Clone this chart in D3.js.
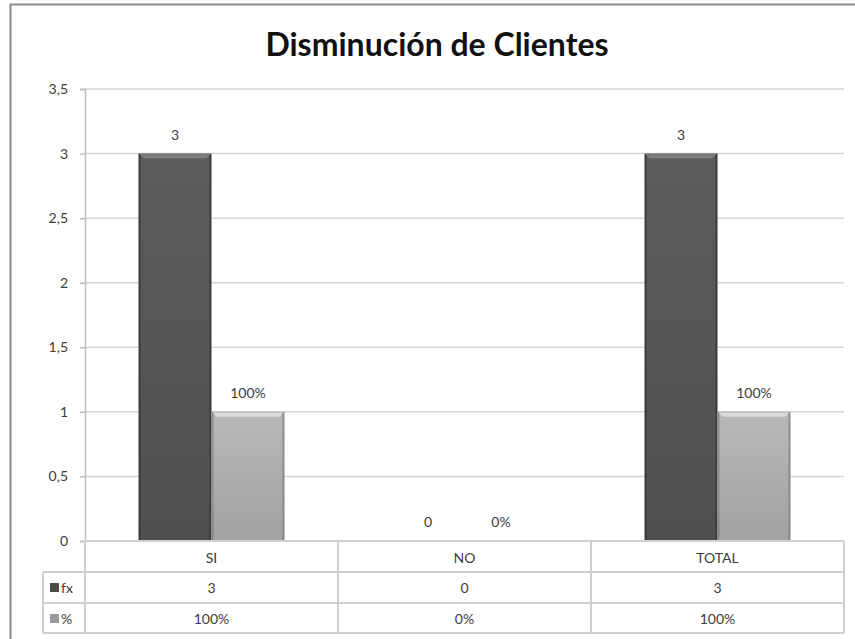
<!DOCTYPE html>
<html>
<head>
<meta charset="utf-8">
<script src="https://cdnjs.cloudflare.com/ajax/libs/d3/7.8.5/d3.min.js"></script>
<style>
  html, body { margin: 0; padding: 0; background: #fff; }
  svg { display: block; }
  text { font-family: Lato, "Open Sans", sans-serif; }
</style>
</head>
<body>
<svg id="chart" width="855" height="639"></svg>
<script>
// Chart data
const title = "Disminución de Clientes";
const categories = ["SI", "NO", "TOTAL"];
const seriesNames = ["fx", "%"];
const fxValues = [3, 0, 3];
const pctValues = [1, 0, 1];
const pctLabels = ["100%", "0%", "100%"];
const yTicks = [0, 0.5, 1, 1.5, 2, 2.5, 3, 3.5];

const svg = d3.select("#chart");

const margin = { left: 85, right: 844, top: 89, bottom: 541 };

const x = d3.scaleBand().domain(categories).range([margin.left, margin.right]).paddingInner(0).paddingOuter(0);
const barW = 73;
const sub = d3.scaleBand().domain(seriesNames).range([0, barW * 2]);
const y = d3.scaleLinear().domain([0, 3.5]).range([margin.bottom, margin.top]);

const fmt = v => d3.format(".1~f")(v).replace(".", ",");
const txt = "#3c3c3c";
const fs = 14;

// Gradients for the bevelled bars
const defs = svg.append("defs");
function grad(id, stops) {
  const g = defs.append("linearGradient").attr("id", id).attr("x1", 0).attr("y1", 0).attr("x2", 0).attr("y2", 1);
  stops.forEach(s => g.append("stop").attr("offset", s[0]).attr("stop-color", s[1]));
}
grad("gDark", [[0, "#5c5c5c"], [1, "#4f4f4f"]]);
grad("gLight", [[0, "#b8b8b8"], [1, "#a2a2a2"]]);
grad("gDarkSide", [[0, "#3c3c3c"], [1, "#3a3a3a"]]);
grad("gLightSide", [[0, "#8e8e8e"], [1, "#858585"]]);

// Outer frame
svg.append("rect").attr("x", 10.5).attr("y", 4.5).attr("width", 900).attr("height", 700)
  .attr("fill", "none").attr("stroke", "#8a8a8a").attr("stroke-width", 2);

// Title
svg.append("text").attr("x", 437).attr("y", 56).attr("text-anchor", "middle")
  .attr("font-size", 32).attr("font-weight", 700).attr("fill", "#111").text(title);

// Gridlines
svg.append("g").selectAll("line").data(yTicks.filter(t => t > 0)).join("line")
  .attr("x1", margin.left).attr("x2", margin.right)
  .attr("y1", d => y(d)).attr("y2", d => y(d))
  .attr("stroke", "#d4d4d4").attr("stroke-width", 1.5);

// Y axis
const yAxis = d3.axisLeft(y).tickValues(yTicks).tickSize(5).tickPadding(12).tickFormat(fmt);
const ga = svg.append("g").attr("transform", `translate(${margin.left},0)`).call(yAxis);
ga.select(".domain").attr("stroke", "#bdbdbd").attr("stroke-width", 1.5);
ga.selectAll(".tick line").attr("stroke", "#bdbdbd").attr("stroke-width", 1.5);
ga.selectAll(".tick text").attr("font-size", fs).attr("fill", txt)
  .attr("font-family", "Lato, sans-serif");

// Bars
const rows = categories.map((c, i) => ({ cat: c, vals: [
  { s: "fx", v: fxValues[i], label: String(fxValues[i]) },
  { s: "%", v: pctValues[i], label: pctLabels[i] }
]}));

const groups = svg.append("g").selectAll("g").data(rows).join("g")
  .attr("transform", d => `translate(${x(d.cat) + x.bandwidth() / 2 - barW},0)`);

groups.each(function(d) {
  const g = d3.select(this);
  d.vals.forEach(b => {
    const bx = sub(b.s), top = y(b.v), h = y(0) - y(b.v);
    const dark = b.s === "fx";
    if (h > 0) {
      g.append("rect").attr("x", bx).attr("y", top).attr("width", sub.bandwidth()).attr("height", h)
        .attr("fill", dark ? "url(#gDarkSide)" : "url(#gLightSide)");
      g.append("rect").attr("x", bx + 2).attr("y", top + 1).attr("width", sub.bandwidth() - 4).attr("height", h - 2)
        .attr("fill", dark ? "url(#gDark)" : "url(#gLight)");
      // top highlight bevel
      g.append("path")
        .attr("d", `M${bx + 1},${top + 0.5} L${bx + sub.bandwidth() - 1},${top + 0.5} L${bx + sub.bandwidth() - 5},${top + 5} L${bx + 5},${top + 5} Z`)
        .attr("fill", dark ? "#858585" : "#e2e2e2").attr("opacity", 0.8);
    }
    g.append("text").attr("x", bx + sub.bandwidth() / 2).attr("y", top - 14)
      .attr("text-anchor", "middle").attr("font-size", fs).attr("fill", txt).text(b.label);
  });
});

// Data table
const rowH = 31;
const tTop = y(0);
const tableLeft = 43;
const lineC = "#d0d0d0";
const tg = svg.append("g");
tg.append("line").attr("x1", margin.left).attr("x2", margin.right).attr("y1", tTop).attr("y2", tTop).attr("stroke", lineC).attr("stroke-width", 2);
[1, 2, 3].forEach(r => {
  const ly = tTop + r * rowH - (r === 3 ? 1 : 0);
  tg.append("line").attr("x1", tableLeft).attr("x2", margin.right)
    .attr("y1", ly).attr("y2", ly).attr("stroke", lineC).attr("stroke-width", 2);
});
tg.append("line").attr("x1", tableLeft).attr("x2", tableLeft).attr("y1", tTop + rowH).attr("y2", tTop + 3 * rowH - 1).attr("stroke", lineC).attr("stroke-width", 2);
const vx = [margin.left, ...categories.map(c => x(c) + x.bandwidth())];
vx.forEach(v => tg.append("line").attr("x1", v).attr("x2", v).attr("y1", tTop).attr("y2", tTop + 3 * rowH - 1)
  .attr("stroke", lineC).attr("stroke-width", 2));

// category labels
tg.selectAll("text.cat").data(categories).join("text").attr("class", "cat")
  .attr("x", d => x(d) + x.bandwidth() / 2).attr("y", tTop + 22)
  .attr("text-anchor", "middle").attr("font-size", fs).attr("fill", txt).text(d => d);
// fx row
tg.selectAll("text.fx").data(fxValues).join("text").attr("class", "fx")
  .attr("x", (d, i) => x(categories[i]) + x.bandwidth() / 2).attr("y", tTop + rowH + 21)
  .attr("text-anchor", "middle").attr("font-size", fs).attr("fill", txt).text(d => d);
// % row
tg.selectAll("text.pc").data(pctLabels).join("text").attr("class", "pc")
  .attr("x", (d, i) => x(categories[i]) + x.bandwidth() / 2).attr("y", tTop + 2 * rowH + 21)
  .attr("text-anchor", "middle").attr("font-size", fs).attr("fill", txt).text(d => d);
// legend keys
seriesNames.forEach((s, i) => {
  const ry = tTop + (i + 1) * rowH;
  tg.append("rect").attr("x", 50).attr("y", ry + 11).attr("width", 9).attr("height", 9)
    .attr("fill", i === 0 ? "#4a4a4a" : "#9a9a9a");
  tg.append("text").attr("x", 61).attr("y", ry + 21).attr("font-size", fs).attr("fill", txt).text(s);
});
</script>
</body>
</html>
